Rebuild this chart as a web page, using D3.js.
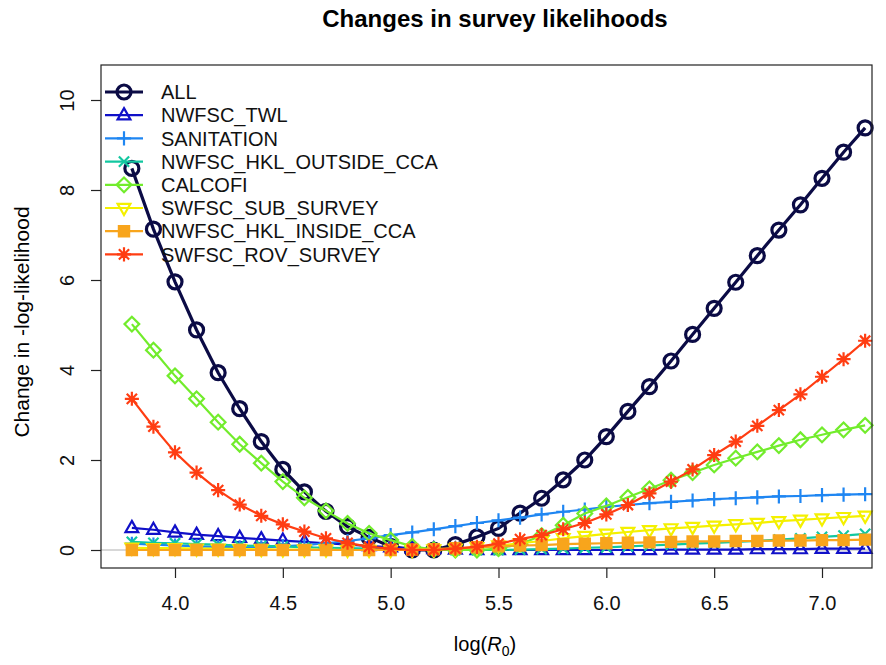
<!DOCTYPE html>
<html>
<head>
<meta charset="utf-8">
<script src="https://cdn.jsdelivr.net/npm/d3@7"></script>
<style>
  body { margin: 0; background: #fff; }
  svg { display: block; font-family: "Liberation Sans", Arial, sans-serif; }
</style>
</head>
<body>
<svg id="chart" width="886" height="665"></svg>
<script>
const logR0 = [3.8, 3.9, 4.0, 4.1, 4.2, 4.3, 4.4, 4.5, 4.6, 4.7, 4.8, 4.9, 5.0, 5.1, 5.2, 5.3, 5.4, 5.5,
  5.6, 5.7, 5.8, 5.9, 6.0, 6.1, 6.2, 6.3, 6.4, 6.5, 6.6, 6.7, 6.8, 6.9, 7.0, 7.1, 7.2];

const seriesNames = ["ALL", "NWFSC_TWL", "SANITATION", "NWFSC_HKL_OUTSIDE_CCA", "CALCOFI",
  "SWFSC_SUB_SURVEY", "NWFSC_HKL_INSIDE_CCA", "SWFSC_ROV_SURVEY"];

const ALL = [8.48, 7.13, 5.96, 4.89, 3.94, 3.14, 2.41, 1.79, 1.29, 0.86, 0.52, 0.28, 0.08, 0.0, 0.0,
  0.12, 0.29, 0.48, 0.82, 1.15, 1.56, 2.0, 2.52, 3.08, 3.63, 4.2, 4.79, 5.37, 5.95, 6.54, 7.11, 7.67,
  8.26, 8.84, 9.38];
const NWFSC_TWL = [0.49, 0.45, 0.39, 0.34, 0.31, 0.27, 0.24, 0.21, 0.18, 0.15, 0.12, 0.09, 0.06, 0.04,
  0.02, 0.01, 0.0, 0.0, 0.0, 0.0, 0.0, 0.0, 0.0, 0.0, 0.0, 0.01, 0.01, 0.01, 0.01, 0.02, 0.02, 0.02,
  0.03, 0.03, 0.03];
const SANITATION = [0.14, 0.12, 0.10, 0.08, 0.07, 0.06, 0.06, 0.08, 0.11, 0.15, 0.2, 0.26, 0.33, 0.39,
  0.46, 0.53, 0.6, 0.66, 0.72, 0.79, 0.85, 0.9, 0.96, 1.0, 1.04, 1.07, 1.1, 1.13, 1.15, 1.17, 1.19,
  1.2, 1.22, 1.23, 1.24];
const NWFSC_HKL_OUTSIDE_CCA = [0.18, 0.16, 0.15, 0.13, 0.12, 0.10, 0.09, 0.08, 0.06, 0.05, 0.04, 0.03,
  0.02, 0.01, 0.0, 0.0, 0.0, 0.0, 0.01, 0.02, 0.03, 0.05, 0.06, 0.08, 0.10, 0.12, 0.14, 0.16, 0.18,
  0.20, 0.23, 0.26, 0.29, 0.32, 0.36];
const CALCOFI = [5.02, 4.44, 3.87, 3.36, 2.84, 2.35, 1.93, 1.52, 1.16, 0.87, 0.59, 0.37, 0.22, 0.08,
  0.01, 0.0, 0.0, 0.03, 0.13, 0.32, 0.55, 0.81, 0.98, 1.17, 1.36, 1.55, 1.72, 1.89, 2.04, 2.18, 2.32,
  2.45, 2.56, 2.67, 2.77];
const SWFSC_SUB_SURVEY = [0.05, 0.04, 0.04, 0.03, 0.03, 0.02, 0.02, 0.01, 0.01, 0.01, 0.0, 0.0, 0.0,
  0.0, 0.01, 0.03, 0.06, 0.1, 0.15, 0.2, 0.26, 0.31, 0.36, 0.4, 0.44, 0.48, 0.51, 0.54, 0.57, 0.6,
  0.64, 0.67, 0.7, 0.73, 0.76];
const NWFSC_HKL_INSIDE_CCA = [0.0, 0.0, 0.0, 0.0, 0.0, 0.0, 0.0, 0.0, 0.0, 0.0, 0.0, 0.0, 0.0, 0.01,
  0.02, 0.04, 0.06, 0.08, 0.1, 0.11, 0.13, 0.14, 0.15, 0.16, 0.17, 0.18, 0.19, 0.19, 0.2, 0.2, 0.21,
  0.21, 0.22, 0.22, 0.23];
const SWFSC_ROV_SURVEY = [3.36, 2.74, 2.17, 1.72, 1.33, 1.01, 0.76, 0.57, 0.41, 0.26, 0.16, 0.07, 0.03,
  0.0, 0.0, 0.03, 0.07, 0.14, 0.24, 0.33, 0.46, 0.6, 0.79, 1.0, 1.26, 1.52, 1.79, 2.11, 2.41, 2.76,
  3.11, 3.46, 3.85, 4.24, 4.65];

const xTicks = [4.0, 4.5, 5.0, 5.5, 6.0, 6.5, 7.0];
const yTicks = [0, 2, 4, 6, 8, 10];

const seriesValues = [ALL, NWFSC_TWL, SANITATION, NWFSC_HKL_OUTSIDE_CCA, CALCOFI,
  SWFSC_SUB_SURVEY, NWFSC_HKL_INSIDE_CCA, SWFSC_ROV_SURVEY];
const colors = ["#0b0b45", "#1010c8", "#1f86f2", "#12c7a0", "#72ec2c", "#f4f000", "#f8a51c", "#ff3d12"];
const shapes = ["circle", "triangle", "plus", "cross", "diamond", "triangleDown", "square", "star"];

const box = { left: 101, right: 872, top: 65, bottom: 568 };

const svg = d3.select("#chart");
svg.append("rect").attr("width", 886).attr("height", 665).attr("fill", "#fff");

const x = d3.scaleLinear().domain([4.0, 7.0]).range([175, 822]);
const y = d3.scaleLinear().domain([0, 10]).range([550, 100]);

// marker outlines in local coords
function markerPath(shape, s) {
  switch (shape) {
    case "triangle":
      return `M0,${-s * 1.1}L${s},${s * 0.65}L${-s},${s * 0.65}Z`;
    case "triangleDown":
      return `M0,${s * 1.1}L${s},${-s * 0.65}L${-s},${-s * 0.65}Z`;
    case "plus":
      return `M${-s * 1.1},0H${s * 1.1}M0,${-s * 1.1}V${s * 1.1}`;
    case "cross":
      return `M${-s * 0.8},${-s * 0.8}L${s * 0.8},${s * 0.8}M${-s * 0.8},${s * 0.8}L${s * 0.8},${-s * 0.8}`;
    case "diamond":
      return `M0,${-s * 1.15}L${s * 1.15},0L0,${s * 1.15}L${-s * 1.15},0Z`;
    case "square":
      return `M${-s * 0.8},${-s * 0.8}H${s * 0.8}V${s * 0.8}H${-s * 0.8}Z`;
    case "star":
      return `M${-s * 1.1},0H${s * 1.1}M0,${-s * 1.1}V${s * 1.1}` +
        `M${-s * 0.8},${-s * 0.8}L${s * 0.8},${s * 0.8}M${-s * 0.8},${s * 0.8}L${s * 0.8},${-s * 0.8}`;
  }
  return "";
}

function drawMarker(g, shape, color, cx, cy) {
  if (shape === "circle") {
    g.append("circle").attr("cx", cx).attr("cy", cy).attr("r", 7)
      .attr("fill", "none").attr("stroke", color).attr("stroke-width", 3.2);
    return;
  }
  g.append("path")
    .attr("transform", `translate(${cx},${cy})`)
    .attr("d", markerPath(shape, 6.4))
    .attr("fill", shape === "square" ? color : "none")
    .attr("stroke", color)
    .attr("stroke-width", 2.2);
}

// zero reference line
svg.append("line")
  .attr("x1", box.left).attr("x2", box.right)
  .attr("y1", y(0)).attr("y2", y(0))
  .attr("stroke", "#b0b0b0").attr("stroke-width", 1);

const plot = svg.append("g");
const line = d3.line().x((d, i) => x(logR0[i])).y(d => y(d));

seriesValues.forEach((vals, k) => {
  const g = plot.append("g");
  g.append("path")
    .attr("d", line(vals))
    .attr("fill", "none")
    .attr("stroke", colors[k])
    .attr("stroke-width", k === 0 ? 3.2 : 2.2);
  vals.forEach((v, i) => drawMarker(g, shapes[k], colors[k], x(logR0[i]), y(v)));
});

// frame
svg.append("rect")
  .attr("x", box.left).attr("y", box.top)
  .attr("width", box.right - box.left).attr("height", box.bottom - box.top)
  .attr("fill", "none").attr("stroke", "#222").attr("stroke-width", 1.2);

// axes
svg.append("g")
  .attr("transform", `translate(0,${box.bottom})`)
  .call(d3.axisBottom(x).tickValues(xTicks).tickFormat(d3.format(".1f")).tickSize(10).tickPadding(18));
const yAxis = svg.append("g")
  .attr("transform", `translate(${box.left},0)`)
  .call(d3.axisLeft(y).tickValues(yTicks).tickSize(10));

svg.selectAll(".domain").remove();
svg.selectAll(".tick line").attr("stroke", "#222").attr("stroke-width", 1.2);
svg.selectAll(".tick text").attr("fill", "#111").style("font-size", "20px")
  .style("font-family", "Liberation Sans, Arial, sans-serif");
yAxis.selectAll(".tick text")
  .attr("x", null).attr("dy", "0.35em").attr("text-anchor", "middle")
  .attr("transform", "translate(-34,0) rotate(-90)");

// titles
svg.append("text")
  .attr("x", 495).attr("y", 27)
  .attr("text-anchor", "middle")
  .style("font-size", "24px").style("font-weight", "bold")
  .text("Changes in survey likelihoods");

svg.append("text")
  .attr("transform", "translate(29,322) rotate(-90)")
  .attr("text-anchor", "middle")
  .style("font-size", "21px")
  .text("Change in -log-likelihood");

const xl = svg.append("text")
  .attr("x", 485).attr("y", 651)
  .attr("text-anchor", "middle")
  .style("font-size", "20px");
xl.append("tspan").text("log(");
xl.append("tspan").style("font-style", "italic").text("R");
xl.append("tspan").attr("dy", 5).style("font-size", "14px").text("0");
xl.append("tspan").attr("dy", -5).text(")");

// legend
const legend = svg.append("g").attr("transform", "translate(105,92)");
seriesNames.forEach((name, k) => {
  const row = legend.append("g").attr("transform", `translate(0,${k * 23.2})`);
  row.append("line")
    .attr("x1", 0).attr("x2", 38)
    .attr("stroke", colors[k]).attr("stroke-width", k === 0 ? 3.2 : 2.2);
  drawMarker(row, shapes[k], colors[k], 19, 0);
  row.append("text")
    .attr("x", 56).attr("dy", "0.36em")
    .style("font-size", "20px")
    .attr("fill", "#111")
    .text(name);
});
</script>
</body>
</html>
